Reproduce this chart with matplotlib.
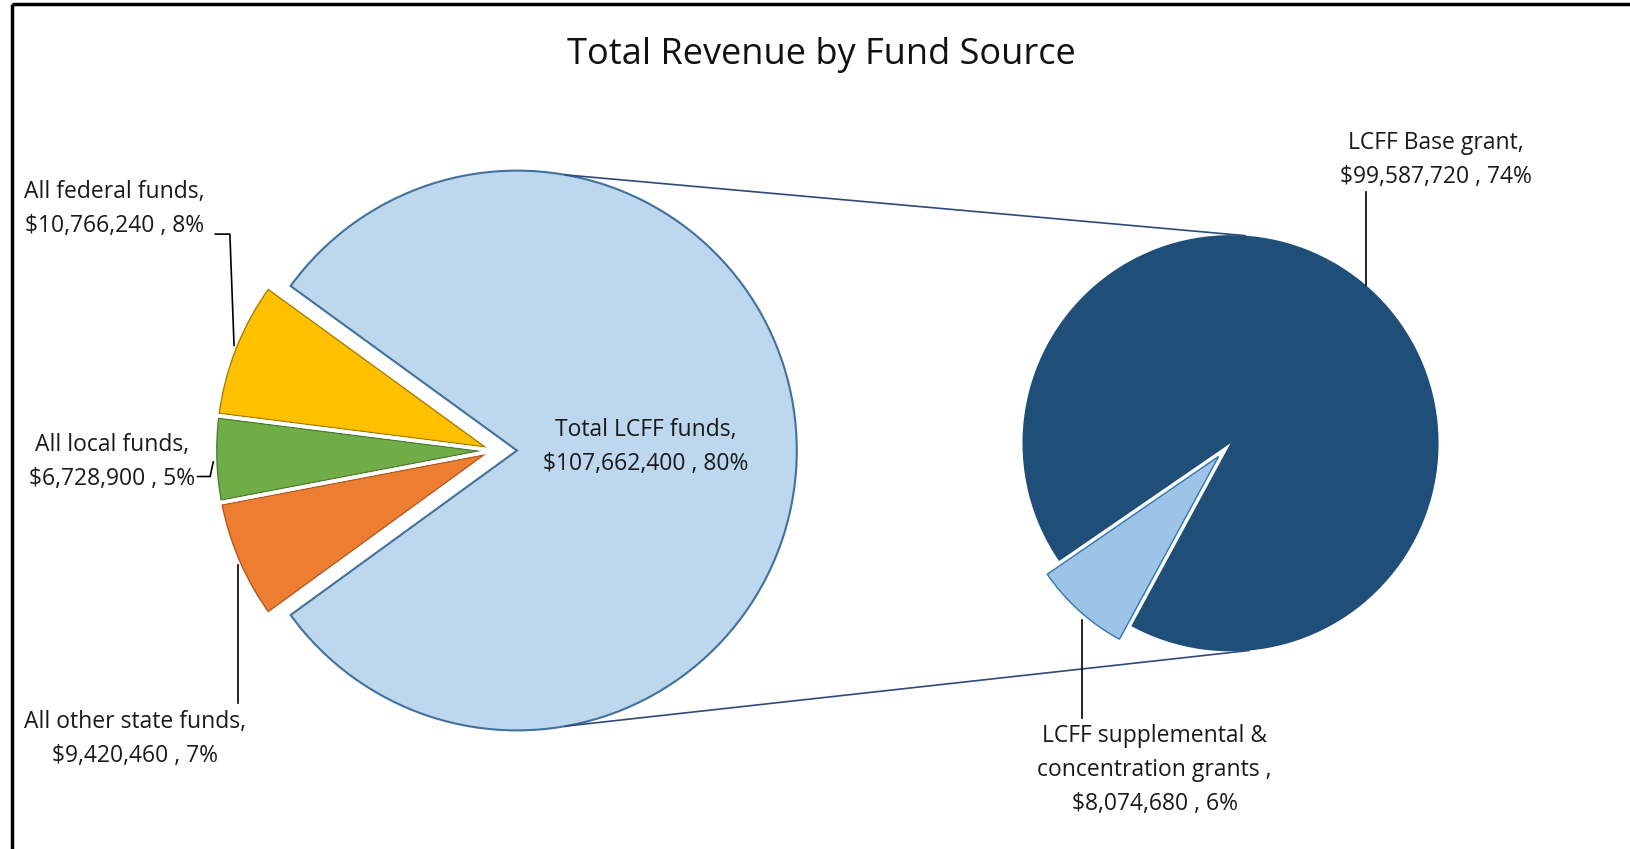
import matplotlib
matplotlib.use("Agg")
import matplotlib.pyplot as plt
from matplotlib.patches import Wedge
import numpy as np

# ---------------- data ----------------
main_labels = ["Total LCFF funds", "All federal funds", "All local funds", "All other state funds"]
main_values = [107662400, 10766240, 6728900, 9420460]
main_pcts = [80, 8, 5, 7]

sub_labels = ["LCFF Base grant", "LCFF supplemental &\nconcentration grants "]
sub_values = [99587720, 8074680]
sub_pcts = [74, 6]

title = "Total Revenue by Fund Source"

# ---------------- style ----------------
main_colors = ["#BDD7EE", "#FFC000", "#70AD47", "#ED7D31"]
main_edges = ["#41719C", "#A67C00", "#4E7A30", "#AE5A21"]
sub_colors = ["#1F4E79", "#9DC3E6"]
sub_edges = ["#1F4E79", "#2E75B6"]
FONT = ["Open Sans", "DejaVu Sans"]

W, H = 1568, 816  # layout units
fig = plt.figure(figsize=(16.31, 8.49), dpi=100)
ax = fig.add_axes([0, 0, 1, 1])

def Y(y):
    return H - y

# main pie
cx, cy, R = 497, Y(433), 269
wedges, _ = ax.pie(main_values, startangle=-144, counterclock=True,
                   center=(cx, cy), radius=R, colors=main_colors,
                   wedgeprops=dict(linewidth=1.5))
for w, ec in zip(wedges, main_edges):
    w.set_edgecolor(ec)
shift = 22
for w in wedges[1:]:
    w.set_center((cx - shift, cy))
    w.set_linewidth(4.5)
    w.set_zorder(2)
    w.set_clip_on(True)
    w.set_clip_path(w)
for w in wedges[1:]:
    ax.add_patch(Wedge(w.center, w.r, w.theta1, w.theta2, fill=False,
                       edgecolor="white", linewidth=2.6, zorder=3))

# secondary pie
c2x, c2y, R2 = 1183, Y(426), 200
start2 = 241.5
w2, _ = ax.pie(sub_values, startangle=start2, counterclock=True,
               center=(c2x, c2y), radius=R2, colors=sub_colors,
               wedgeprops=dict(linewidth=0))
sw = w2[1]
mid = np.radians(0.5 * (sw.theta1 + sw.theta2))
off = 17
sw.set_center((c2x + off * np.cos(mid), c2y + off * np.sin(mid)))
sw.set_edgecolor("white")
sw.set_linewidth(5)
sw.set_zorder(2)
ax.add_patch(Wedge(sw.center, sw.r, sw.theta1, sw.theta2, facecolor=sub_colors[1],
                   edgecolor=sub_edges[1], linewidth=1, zorder=3))

# connector lines
for a1, a2 in [(80, 86), (-80, -85)]:
    p1 = (cx + R * np.cos(np.radians(a1)), cy + R * np.sin(np.radians(a1)))
    p2 = (c2x + R2 * np.cos(np.radians(a2)), c2y + R2 * np.sin(np.radians(a2)))
    ax.plot([p1[0], p2[0]], [p1[1], p2[1]], color="#2F4A7A", lw=1.2, zorder=4)

def fmt(v, p):
    return f"${v:,.0f} , {p}%"

fs = 16.5
ls = 1.55
txt_kw = dict(ha="center", va="center", fontsize=fs, family=FONT,
              linespacing=ls, color="#1a1a1a", zorder=6)

ax.text(621, Y(430), f"{main_labels[0]},\n{fmt(main_values[0], main_pcts[0])}", **txt_kw)
ax.text(110, Y(201), f"{main_labels[1]},\n{fmt(main_values[1], main_pcts[1])}", **txt_kw)
ax.text(108, Y(444), f"{main_labels[2]},\n{fmt(main_values[2], main_pcts[2])}", **txt_kw)
ax.text(130, Y(710), f"{main_labels[3]},\n{fmt(main_values[3], main_pcts[3])}", **txt_kw)
ax.text(1380, Y(154), f"{sub_labels[0]},\n{fmt(sub_values[0], sub_pcts[0])}", **txt_kw)
ax.text(1110, Y(740), f"{sub_labels[1]},\n{fmt(sub_values[1], sub_pcts[1])}", **txt_kw)

# leader lines
lk = dict(color="black", lw=1.2, zorder=5)
ax.plot([207, 221, 225], [Y(225), Y(225), Y(332)], **lk)
ax.plot([190, 202, 205], [Y(458), Y(458), Y(444)], **lk)
ax.plot([229, 229], [Y(676), Y(543)], **lk)
ax.plot([1313, 1313], [Y(185), Y(274)], **lk)
ax.plot([1040, 1040], [Y(690), Y(596)], **lk)

# title
ax.text(790, Y(53), title, ha="center", va="center", fontsize=26, family=FONT,
        color="#111111")

# frame (top and left borders)
ax.plot([12, W + 5], [Y(4), Y(4)], color="black", lw=2.5, zorder=7, solid_capstyle="butt")
ax.plot([12, 12], [Y(4), Y(H + 5)], color="black", lw=2.5, zorder=7, solid_capstyle="butt")

ax.set_xlim(0, W)
ax.set_ylim(0, H)
ax.set_aspect("auto")
ax.axis("off")

fig.savefig("out.png", dpi=100)
